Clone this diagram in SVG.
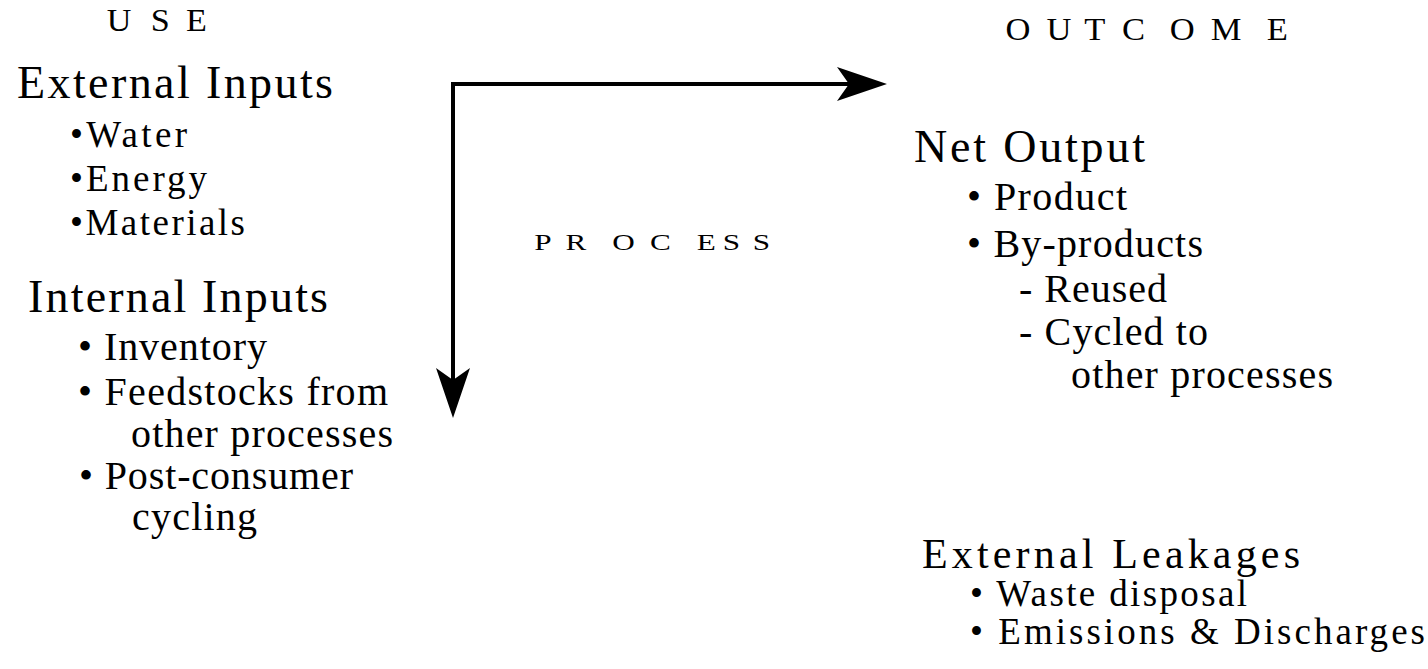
<svg xmlns="http://www.w3.org/2000/svg" width="1428" height="669" viewBox="0 0 1428 669">
<style>
.t{font-family:"Liberation Serif","Times New Roman",serif;fill:#000}
.h{font-size:46px}
.b{font-size:40px}
.s{font-size:37px}
.conn{fill:none;stroke:#000;stroke-width:4}
</style>
<defs>
<marker id="ah" markerUnits="userSpaceOnUse" viewBox="0 0 50 34" refX="12" refY="17" markerWidth="50" markerHeight="34" orient="auto-start-reverse">
<path d="M0,0 L50,17 L0,34 L12,17 Z" fill="#000"/>
</marker>
</defs>
<rect width="1428" height="669" fill="#fff"/>
<g id="connectors">
<path class="conn" d="M453,380 L453,84 L849,84" marker-start="url(#ah)" marker-end="url(#ah)"/>
</g>
<g id="use-label">
<text class="t" font-size="31" transform="translate(0,31) scale(1.1,1)" x="97 118 137 155 169" y="0">U S E</text>
</g>
<g id="process-label">
<text class="t" font-size="24" transform="translate(0,250) scale(1.3,1)" x="411 423 435 452 471 485 500 518 536 546 556 567 579" y="0">P R O C E S S</text>
</g>
<g id="outcome-label">
<text class="t" font-size="32" transform="translate(0,40) scale(1.08,1)" x="931 950 969 987 1004 1021 1039 1061 1083 1103 1121 1148 1173" y="0">O U T C O M E</text>
</g>
<g id="external-inputs">
<text class="t h" x="17" y="98" textLength="316">External Inputs</text>
<text class="t s" x="70" y="147" textLength="117">•Water</text>
<text class="t s" x="70" y="191" textLength="137">•Energy</text>
<text class="t s" x="70" y="235" textLength="175">•Materials</text>
</g>
<g id="internal-inputs">
<text class="t h" x="28" y="312" textLength="300">Internal Inputs</text>
<text class="t b" x="78" y="360" textLength="189">• Inventory</text>
<text class="t b" x="78" y="405" textLength="310">• Feedstocks from</text>
<text class="t b" x="131" y="447" textLength="262">other processes</text>
<text class="t b" x="79" y="489" textLength="274">• Post-consumer</text>
<text class="t b" x="132" y="530" textLength="125">cycling</text>
</g>
<g id="net-output">
<text class="t h" x="914" y="162" textLength="231">Net Output</text>
<text class="t b" x="967" y="210" textLength="160">• Product</text>
<text class="t b" x="967" y="257" textLength="236">• By-products</text>
<text class="t b" x="1019" y="302" textLength="148">- Reused</text>
<text class="t b" x="1019" y="345" textLength="189">- Cycled to</text>
<text class="t b" x="1071" y="388" textLength="262">other processes</text>
</g>
<g id="external-leakages">
<text class="t" font-size="42" x="922" y="568" textLength="378">External Leakages</text>
<text class="t" font-size="37" x="970" y="606" textLength="277">• Waste disposal</text>
<text class="t" font-size="37" x="970" y="644" textLength="455">• Emissions &amp; Discharges</text>
</g>
</svg>
